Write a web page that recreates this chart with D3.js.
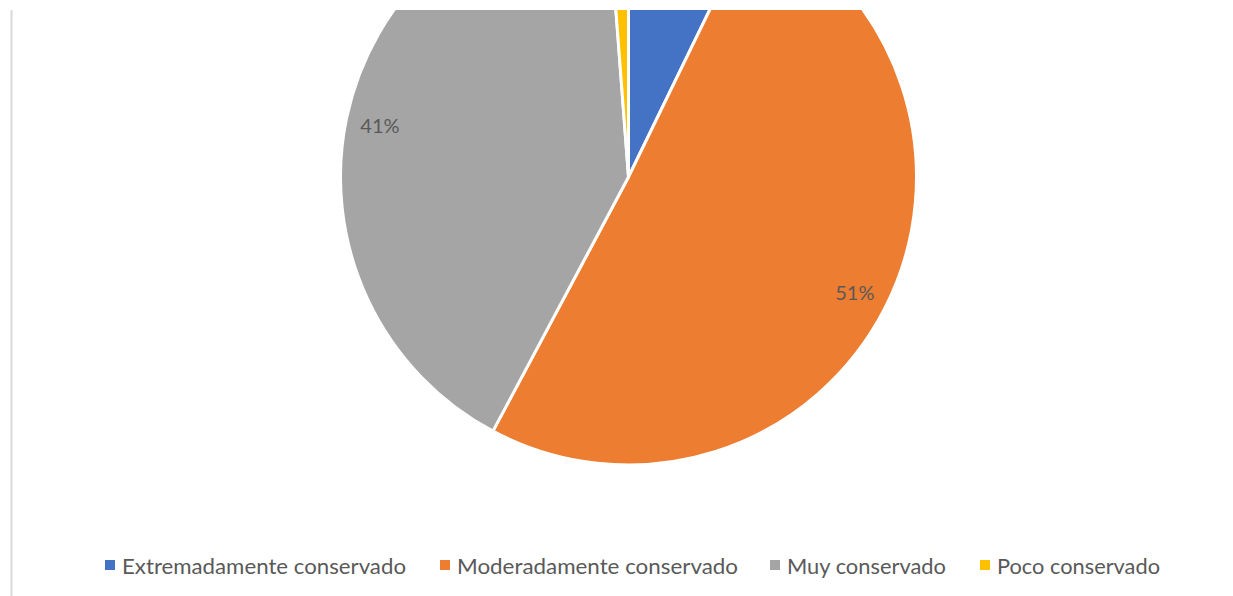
<!DOCTYPE html>
<html>
<head>
<meta charset="utf-8">
<script src="https://cdn.jsdelivr.net/npm/d3@7"></script>
<style>
  html, body { margin: 0; padding: 0; background: #fff; }
  svg { display: block; }
</style>
</head>
<body>
<svg id="chart" width="1233" height="596"></svg>
<script>
// Conservation level shares (percent)
const categories = ["Extremadamente conservado", "Moderadamente conservado", "Muy conservado", "Poco conservado"];
const values = [7.2, 50.6, 41.0, 1.2];
const colors = ["#4472C4", "#ED7D31", "#A5A5A5", "#FFC000"];

const W = 1233, H = 596;
const svg = d3.select("#chart");
const font = "Lato, 'Liberation Sans', sans-serif";
const textColor = "#595959";

// Chart frame: only the left edge is visible
svg.append("line")
  .attr("x1", 11.5).attr("x2", 11.5)
  .attr("y1", 10).attr("y2", H)
  .attr("stroke", "#d9d9d9").attr("stroke-width", 2);

// Plot area clip (pie overflows the top edge)
const plotTop = 10;
svg.append("defs").append("clipPath").attr("id", "plotClip")
  .append("rect").attr("x", 12).attr("y", plotTop).attr("width", W - 12).attr("height", H - plotTop);

const cx = 628.5, cy = 177, r = 288;
const data = categories.map((c, i) => ({ name: c, value: values[i], color: colors[i] }));

const pie = d3.pie().value(d => d.value).sort(null);
const arc = d3.arc().innerRadius(0).outerRadius(r);
const labelArc = d3.arc().innerRadius(254).outerRadius(254);

const g = svg.append("g")
  .attr("clip-path", "url(#plotClip)")
  .append("g")
  .attr("transform", `translate(${cx},${cy})`);

const arcs = pie(data);

g.selectAll("path.slice")
  .data(arcs)
  .join("path")
  .attr("class", "slice")
  .attr("d", arc)
  .attr("fill", d => d.data.color)
  .attr("stroke", "#fff")
  .attr("stroke-width", 3)
  .attr("stroke-linejoin", "round");

// Data labels: only those that land inside the plot area
const visibleLabels = arcs.filter(d => cy + labelArc.centroid(d)[1] - 12 > plotTop);
g.selectAll("text.lbl")
  .data(visibleLabels)
  .join("text")
  .attr("class", "lbl")
  .attr("transform", d => `translate(${labelArc.centroid(d)})`)
  .attr("text-anchor", "middle")
  .attr("dominant-baseline", "central")
  .attr("font-family", font)
  .attr("font-size", 20)
  .attr("fill", textColor)
  .text(d => Math.round(d.data.value) + "%");

// Legend
const legendY = 565;
const legendX = [105, 440, 770, 980];
const legendTextW = [284, 281, 159, 163];
const legend = svg.append("g");
data.forEach((d, i) => {
  const item = legend.append("g").attr("transform", `translate(${legendX[i]},${legendY})`);
  item.append("rect")
    .attr("x", 0).attr("y", -5)
    .attr("width", 10).attr("height", 10)
    .attr("fill", d.color);
  item.append("text")
    .attr("x", 17).attr("y", 0)
    .attr("dominant-baseline", "central")
    .attr("font-family", font)
    .attr("font-size", 21)
    .attr("textLength", legendTextW[i])
    .attr("lengthAdjust", "spacingAndGlyphs")
    .attr("fill", textColor)
    .text(d.name);
});
</script>
</body>
</html>
